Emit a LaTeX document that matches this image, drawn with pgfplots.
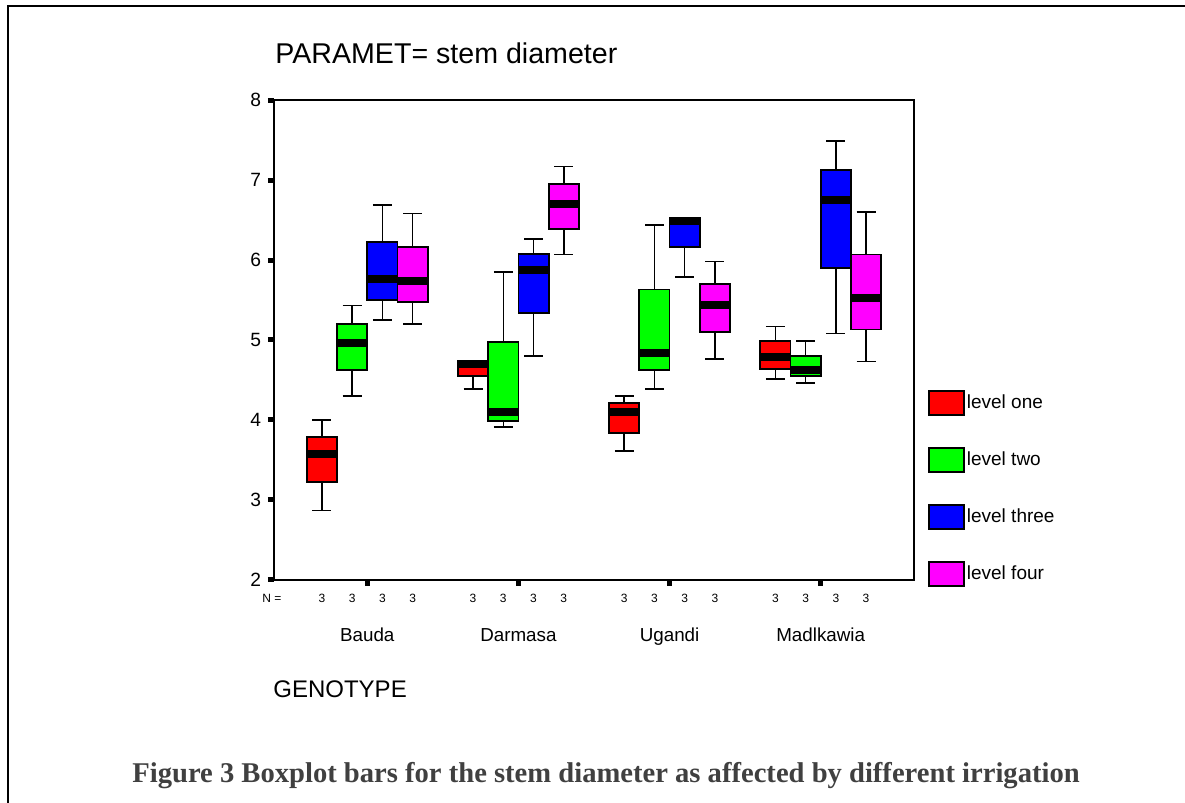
\documentclass[border=0pt]{standalone}
\usepackage{fontspec}
\setmainfont{Liberation Sans}
\newfontfamily\capfont{Liberation Serif}
\usepackage{pgfplots}
\pgfplotsset{compat=1.18}
\usepgfplotslibrary{statistics}
\definecolor{lvone}{RGB}{255,0,0}
\definecolor{lvtwo}{RGB}{0,255,0}
\definecolor{lvthree}{RGB}{0,0,255}
\definecolor{lvfour}{RGB}{255,0,255}
\definecolor{capgray}{RGB}{64,64,64}
% one box: lower whisker, lower quartile, median, upper quartile, upper whisker, position, colour
\newcommand\bx[7]{%
  \addplot[forget plot, black,
    boxplot prepared={lower whisker=#1, lower quartile=#2, median=#3,
      upper quartile=#4, upper whisker=#5, draw position=#6},
    boxplot/every box/.style={fill=#7, draw=black, line width=0.9pt}]
    coordinates {};}
\begin{document}
\begin{tikzpicture}
  \begin{axis}[
      at={(0,0)}, anchor=south west,
      scale only axis, width=320pt, height=240pt,
      xmin=0.383, xmax=4.617, ymin=2, ymax=8,
      axis line style={line width=1pt},
      ytick={2,3,4,5,6,7,8},
      xtick={1,2,3,4},
      xticklabels={Bauda,Darmasa,Ugandi,Madlkawia},
      extra x ticks={0.7,0.9,1.1,1.3,1.7,1.9,2.1,2.3,2.7,2.9,3.1,3.3,3.7,3.9,4.1,4.3},
      extra x tick labels={3,3,3,3,3,3,3,3,3,3,3,3,3,3,3,3},
      extra x tick style={major tick length=0pt, tick style={draw opacity=0},
        xticklabel style={font=\fontsize{6}{7}\selectfont, yshift=16.6pt}},
      xticklabel style={font=\fontsize{9.4}{11}\selectfont, anchor=base, yshift=-27.9pt},
      yticklabel style={font=\fontsize{9.6}{11}\selectfont},
      /pgf/number format/assume math mode=true,
      tick align=outside, major tick length=3pt,
      tick style={line width=2.5pt, black},
      xtick pos=bottom, ytick pos=left,
      boxplot/draw direction=y,
      boxplot/box extend=0.2,
      boxplot/whisker extend=0.125,
      boxplot/every median/.style={line width=4pt, draw=black},
      boxplot/every whisker/.style={line width=0.75pt, draw=black},
      legend image code/.code={\draw[#1, draw=black, line width=0.9pt] (0pt,-6pt) rectangle (17.5pt,6pt);},
      legend style={at={(rel axis cs:1.0214,0.396)}, anchor=north west, draw=none, fill=none,
        inner sep=0pt, row sep=15.5pt, font=\fontsize{9.5}{11}\selectfont,
        nodes={inner sep=1pt, anchor=west},
        /tikz/every even column/.append style={column sep=1pt}},
    ]
    \addlegendimage{fill=lvone}\addlegendentry{level one}
    \addlegendimage{fill=lvtwo}\addlegendentry{level two}
    \addlegendimage{fill=lvthree}\addlegendentry{level three}
    \addlegendimage{fill=lvfour}\addlegendentry{level four}
    % Bauda
    \bx{2.87}{3.22}{3.58}{3.79}{4.00}{0.7}{lvone}
    \bx{4.30}{4.62}{4.96}{5.20}{5.43}{0.9}{lvtwo}
    \bx{5.25}{5.50}{5.76}{6.23}{6.69}{1.1}{lvthree}
    \bx{5.20}{5.47}{5.74}{6.16}{6.58}{1.3}{lvfour}
    % Darmasa
    \bx{4.39}{4.55}{4.70}{4.74}{4.74}{1.7}{lvone}
    \bx{3.91}{3.99}{4.10}{4.97}{5.85}{1.9}{lvtwo}
    \bx{4.80}{5.34}{5.88}{6.08}{6.26}{2.1}{lvthree}
    \bx{6.07}{6.39}{6.70}{6.95}{7.17}{2.3}{lvfour}
    % Ugandi
    \bx{3.61}{3.84}{4.10}{4.21}{4.30}{2.7}{lvone}
    \bx{4.39}{4.62}{4.84}{5.63}{6.44}{2.9}{lvtwo}
    \bx{5.79}{6.16}{6.49}{6.53}{6.53}{3.1}{lvthree}
    \bx{4.76}{5.10}{5.44}{5.70}{5.98}{3.3}{lvfour}
    % Madlkawia
    \bx{4.51}{4.64}{4.79}{4.99}{5.17}{3.7}{lvone}
    \bx{4.46}{4.55}{4.63}{4.80}{4.99}{3.9}{lvtwo}
    \bx{5.08}{5.90}{6.75}{7.13}{7.49}{4.1}{lvthree}
    \bx{4.73}{5.13}{5.53}{6.07}{6.60}{4.3}{lvfour}
  \end{axis}
  \node[anchor=west, inner sep=0pt, font=\fontsize{14.3}{17}\selectfont] at (0.5pt,263.5pt) {PARAMET= stem diameter};
  \node[anchor=center, inner sep=0pt, font=\fontsize{6}{7}\selectfont] at (-1pt,-9pt) {N =};
  \node[anchor=west, inner sep=0pt, font=\fontsize{12}{14}\selectfont] at (-0.5pt,-54.5pt) {GENOTYPE};
  \node[anchor=base west, inner sep=0pt, text=capgray, font=\capfont\bfseries\fontsize{14.3}{17}\selectfont]
    at (-71pt,-101.5pt) {Figure 3 Boxplot bars for the stem diameter as affected by different irrigation};
  \draw[line width=1pt] (-133.2pt,-115pt) -- (-133.2pt,287pt) -- (460pt,287pt);
  \pgfresetboundingbox
  \useasboundingbox (-137pt,-111.5pt) rectangle (455.5pt,290pt);
\end{tikzpicture}
\end{document}
